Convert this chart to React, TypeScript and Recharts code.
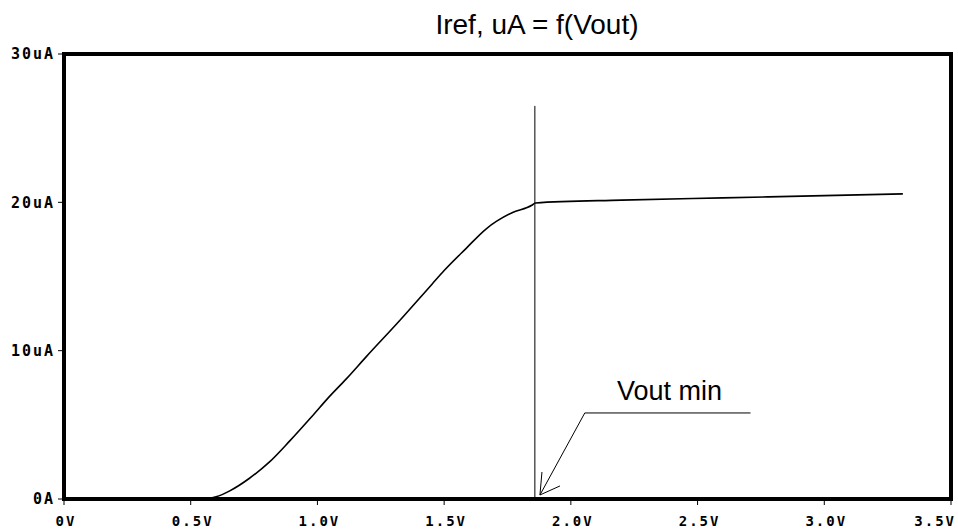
import { LineChart, Line, XAxis, YAxis, ReferenceArea, ReferenceLine } from 'recharts';

// Vout, V
const vout = [0, 0.55, 0.6, 0.654, 0.732, 0.811, 0.89, 0.98, 1.047, 1.114, 1.193, 1.323, 1.453, 1.5, 1.587, 1.665, 1.768, 1.846, 1.86, 2.2, 2.6, 3.0, 3.31];
// Iref, uA
const iref = [0, 0, 0.15, 0.55, 1.4, 2.5, 3.9, 5.6, 6.9, 8.1, 9.6, 12.0, 14.5, 15.4, 16.9, 18.2, 19.3, 19.8, 19.96, 20.15, 20.3, 20.45, 20.57];

const xTicks = [0, 0.5, 1.0, 1.5, 2.0, 2.5, 3.0, 3.5];
const xTickLabels = ['0V', '0.5V', '1.0V', '1.5V', '2.0V', '2.5V', '3.0V', '3.5V'];
const yTicks = [0, 10, 20, 30];
const yTickLabels = ['0A', '10uA', '20uA', '30uA'];

// Vout min marker and annotation arrow (in V / uA)
const voutMin = 1.858;
const markerTop = 26.5;
const arrowTip = { x: 1.878, y: 0.27 };
const arrowElbow = { x: 2.055, y: 5.8 };
const arrowEnd = { x: 2.709, y: 5.8 };
const arrowHeadA = { x: 1.886, y: 1.82 };
const arrowHeadB = { x: 1.957, y: 0.88 };

const data = vout.map((v, i) => ({ v, i: iref[i] }));

const tickFont = {
  fontFamily: '"DejaVu Sans Mono", monospace',
  fontWeight: 700,
  fontSize: 15,
  letterSpacing: 2,
  fill: '#000',
};

function XTick({ x, y, payload }: any) {
  const idx = xTicks.indexOf(payload.value);
  const last = idx === xTicks.length - 1;
  return (
    <text
      x={last ? x + 5 : x + 2}
      y={y + 9}
      dy="0.71em"
      textAnchor={last ? 'end' : 'middle'}
      {...tickFont}
      fontSize={14}
    >
      {xTickLabels[idx]}
    </text>
  );
}

export default function App() {
  return (
    <div style={{ position: 'absolute', left: 0, top: 0, width: 958, height: 530, background: '#fff' }}>
      <LineChart width={958} height={530} data={data} margin={{ top: 54, right: 7, left: 0, bottom: 0 }}>
        <XAxis
          dataKey="v"
          type="number"
          domain={[0, 3.5]}
          ticks={xTicks}
          tick={<XTick />}
          tickSize={6}
          height={31}
          stroke="#000"
          axisLine={{ stroke: '#000', strokeWidth: 4 }}
          tickLine={{ stroke: '#000', strokeWidth: 1 }}
          interval={0}
        />
        <YAxis
          type="number"
          domain={[0, 30]}
          ticks={yTicks}
          tickFormatter={(v: number) => yTickLabels[yTicks.indexOf(v)] ?? ''}
          tick={tickFont}
          tickSize={6}
          tickMargin={3}
          width={64}
          stroke="#000"
          axisLine={{ stroke: '#000', strokeWidth: 4 }}
          tickLine={{ stroke: '#000', strokeWidth: 1 }}
          interval={0}
        />
        <ReferenceArea x1={0} x2={3.5} y1={0} y2={30} fill="none" stroke="#000" strokeWidth={4} ifOverflow="visible" />
        <ReferenceLine segment={[{ x: voutMin, y: 0 }, { x: voutMin, y: markerTop }]} stroke="#000" strokeWidth={1} />
        <ReferenceLine segment={[arrowTip, arrowElbow]} stroke="#000" strokeWidth={1} />
        <ReferenceLine segment={[arrowElbow, arrowEnd]} stroke="#000" strokeWidth={1} />
        <ReferenceLine segment={[arrowTip, arrowHeadA]} stroke="#000" strokeWidth={1} />
        <ReferenceLine segment={[arrowTip, arrowHeadB]} stroke="#000" strokeWidth={1} />
        <Line
          dataKey="i"
          type="monotone"
          stroke="#000"
          strokeWidth={1.6}
          dot={false}
          isAnimationActive={false}
        />
      </LineChart>
      <svg width={958} height={530} style={{ position: 'absolute', left: 0, top: 0, pointerEvents: 'none' }}>
        <text x={537} y={34} textAnchor="middle" fontFamily='"Liberation Sans", Arial, sans-serif' fontSize={28} fill="#000">
          Iref, uA = f(Vout)
        </text>
        <text x={617} y={400} fontFamily='"Liberation Sans", Arial, sans-serif' fontSize={27} fill="#000">
          Vout min
        </text>
      </svg>
    </div>
  );
}
